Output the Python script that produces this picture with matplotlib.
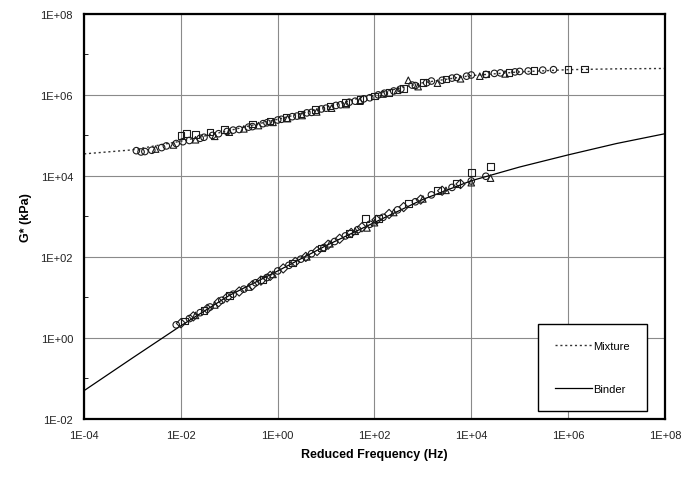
import numpy as np
import matplotlib.pyplot as plt
from matplotlib.ticker import FixedLocator, FuncFormatter, NullFormatter

plt.rcParams['font.family'] = ['Liberation Sans', 'DejaVu Sans']

# ---------------- fitted master curves ----------------
curve_f = [1e-4, 1e-3, 1e-2, 1e-1, 1e0, 1e1, 1e2, 1e3, 1e4, 1e5, 1e6, 1e7, 1e8]
mix_curve = [3.5e4, 4.4e4, 7.2e4, 1.32e5, 2.5e5, 5.0e5, 1.05e6, 2.0e6, 3.0e6, 3.7e6, 4.2e6, 4.4e6, 4.5e6]
bind_curve = [0.05, 0.32, 2.0, 11.2, 45, 190, 710, 2630, 7600, 16600, 33000, 63000, 110000]

# ---------------- mixture measured points ----------------
mix_o_f = [1.2e-3, 1.5e-3, 2.5e-3, 5e-3, 8e-3, 1.5e-2, 3e-2, 6e-2, 0.12, 0.25, 0.5, 1.0, 2, 4, 8, 16,
           30, 60, 120, 250, 600, 1500, 4000, 1e4, 3e4, 1e5, 3e5]
mix_o_g = [4.2e4, 3.9e4, 4.3e4, 5.5e4, 6.3e4, 7.5e4, 9e4, 1.1e5, 1.35e5, 1.6e5, 1.95e5, 2.4e5, 2.9e5,
           3.6e5, 4.5e5, 5.5e5, 6.6e5, 8e5, 1.0e6, 1.25e6, 1.75e6, 2.2e6, 2.6e6, 3.1e6, 3.4e6, 3.8e6, 4.1e6]
mix_s_f = [1e-2, 1.3e-2, 2e-2, 4e-2, 8e-2, 0.3, 0.7, 1.5, 3, 6, 12, 25, 50, 100, 200, 400, 1000,
           3000, 2e4, 6e4, 2e5, 1e6, 2.2e6]
mix_s_g = [1.0e5, 1.1e5, 1.05e5, 1.2e5, 1.4e5, 1.9e5, 2.3e5, 2.8e5, 3.4e5, 4.3e5, 5.3e5, 6.5e5, 7.8e5,
           9.5e5, 1.15e6, 1.45e6, 2.0e6, 2.5e6, 3.3e6, 3.6e6, 4.0e6, 4.3e6, 4.4e6]
mix_t_f = [3e-3, 7e-3, 2e-2, 5e-2, 0.1, 0.2, 0.4, 0.8, 1.6, 3.2, 6.4, 13, 26, 50, 150, 300, 500,
           800, 2000, 6000, 1.5e4, 5e4]
mix_t_g = [4.6e4, 5.8e4, 7.8e4, 9.5e4, 1.2e5, 1.45e5, 1.75e5, 2.1e5, 2.6e5, 3.1e5, 3.8e5, 4.7e5,
           5.8e5, 7.0e5, 1.05e6, 1.3e6, 2.3e6, 1.6e6, 1.95e6, 2.5e6, 2.9e6, 3.3e6]
mix_d_f = [1.8e-3, 4e-3, 1.1e-2, 2.5e-2, 4.5e-2, 9e-2, 0.16, 0.3, 0.6, 1.2, 2.5, 5, 10, 20, 40, 80,
           160, 350, 700, 1200, 2500, 5000, 8000, 2e4, 4e4, 8e4, 1.5e5, 5e5]
mix_d_g = [4.0e4, 5.0e4, 7.0e4, 8.5e4, 1.0e5, 1.25e5, 1.4e5, 1.65e5, 2.05e5, 2.5e5, 3.0e5, 3.7e5,
           4.7e5, 5.7e5, 7.0e5, 8.5e5, 1.1e6, 1.4e6, 1.7e6, 2.0e6, 2.3e6, 2.7e6, 2.9e6, 3.2e6,
           3.5e6, 3.7e6, 3.9e6, 4.2e6]

# ---------------- binder measured points ----------------
bind_o_f = [8e-3, 1.5e-2, 2.5e-2, 4e-2, 7e-2, 0.12, 0.2, 0.35, 0.6, 1.0, 1.7, 3, 5, 9, 15, 25, 45,
            80, 150, 300, 700, 1500, 4000, 1e4, 2e4]
bind_o_g = [2.1, 3.0, 4.2, 5.8, 8.5, 12, 16, 23, 31, 45, 62, 88, 120, 170, 240, 330, 470, 640, 950,
            1450, 2300, 3400, 5200, 7500, 9800]
bind_s_f = [1.2e-2, 3e-2, 0.1, 0.5, 2, 8, 30, 65, 120, 500, 2000, 5000, 1e4, 2.5e4]
bind_s_g = [2.6, 4.8, 11, 28, 70, 165, 380, 900, 900, 2100, 4300, 6500, 1.2e4, 1.7e4]
bind_t_f = [2e-2, 5e-2, 0.25, 0.8, 4, 12, 40, 70, 100, 250, 1000, 3000, 1e4, 2.5e4]
bind_t_g = [3.6, 6.5, 18, 37, 100, 210, 430, 520, 700, 1250, 2700, 4400, 6800, 8800]
bind_d_f = [1e-2, 1.8e-2, 3.5e-2, 6e-2, 9e-2, 0.16, 0.3, 0.45, 0.7, 1.3, 2.3, 3.8, 6.5, 11, 19, 33,
            55, 110, 200, 400, 900, 2500, 6000]
bind_d_g = [2.3, 3.4, 5.2, 7.6, 10, 14, 20, 26, 34, 52, 75, 100, 140, 200, 280, 390, 540, 820,
            1150, 1700, 2600, 4300, 6300]

fig = plt.figure(figsize=(6.84, 4.81), dpi=100)
ax = fig.add_axes([0.123, 0.127, 0.849, 0.842])
ax.set_xscale('log')
ax.set_yscale('log')
ax.set_xlim(1e-4, 1e8)
ax.set_ylim(1e-2, 1e8)

ax.grid(True, which='major', color='#8a8a8a', lw=0.8)
ax.set_axisbelow(True)

kw = dict(facecolor='none', edgecolor='#1a1a1a', linewidths=0.8, s=22, zorder=3)
ax.scatter(mix_o_f, mix_o_g, marker='o', **kw)
ax.scatter(mix_s_f, mix_s_g, marker='s', **kw)
ax.scatter(mix_t_f, mix_t_g, marker='^', **kw)
ax.scatter(mix_d_f, mix_d_g, marker='o', **kw)
ax.scatter(bind_o_f, bind_o_g, marker='o', **kw)
ax.scatter(bind_s_f, bind_s_g, marker='s', **kw)
ax.scatter(bind_t_f, bind_t_g, marker='^', **kw)
ax.scatter(bind_d_f, bind_d_g, marker='D', **kw)

ax.plot(curve_f, mix_curve, color='#333333', ls=(0, (1.5, 2)), lw=1.0, label='Mixture', zorder=2)
ax.plot(curve_f, bind_curve, color='black', ls='-', lw=0.9, label='Binder', zorder=2)

ax.xaxis.set_major_locator(FixedLocator([1e-4, 1e-2, 1e0, 1e2, 1e4, 1e6, 1e8]))
ax.yaxis.set_major_locator(FixedLocator([1e-2, 1e0, 1e2, 1e4, 1e6, 1e8]))
ax.xaxis.set_minor_locator(FixedLocator([]))
ax.yaxis.set_minor_locator(FixedLocator([1e-1, 1e1, 1e3, 1e5, 1e7]))
ax.yaxis.set_minor_formatter(NullFormatter())
fmt = FuncFormatter(lambda v, p: '1E%+03d' % int(round(np.log10(v))))
ax.xaxis.set_major_formatter(fmt)
ax.yaxis.set_major_formatter(fmt)
ax.tick_params(axis='both', which='major', labelsize=8, length=0, pad=8, colors='#222222')
ax.tick_params(axis='y', which='minor', length=3, direction='in')

for s in ax.spines.values():
    s.set_linewidth(1.6)

ax.set_xlabel('Reduced Frequency (Hz)', fontsize=9, fontweight='bold', labelpad=6)
ax.set_ylabel('G* (kPa)', fontsize=9, fontweight='bold', labelpad=6)

leg = ax.legend(loc='lower right', bbox_to_anchor=(0.969, 0.02), borderaxespad=0, fontsize=8,
                labelspacing=3.0, handlelength=3.4, handletextpad=0.1, borderpad=1.5,
                fancybox=False, edgecolor='black', framealpha=1)
leg.get_frame().set_linewidth(1.0)

plt.savefig('out.png', dpi=100)
